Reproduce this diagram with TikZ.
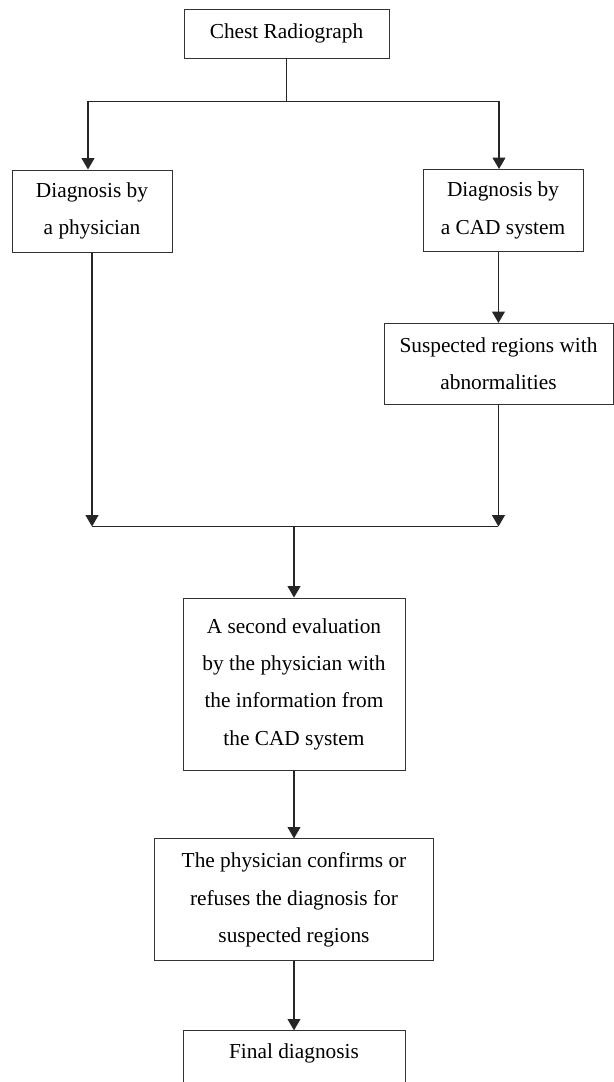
\documentclass[tikz,border=0pt]{standalone}
\usepackage{fontspec}
\setmainfont{Liberation Serif}
\usetikzlibrary{arrows.meta,positioning,calc}

\begin{document}
\begin{tikzpicture}[
		x=0.75pt, y=0.75pt,
		font=\fontsize{16}{28}\selectfont,
		every node/.style={align=center},
		flowbox/.style={rectangle, draw=black!80, line width=0.7pt,
				fill=white, inner sep=3pt},
		narrow/.style={flowbox, minimum width=120pt, minimum height=61.5pt},
		wide/.style={flowbox, minimum width=166.5pt},
		conn/.style={line width=1.25pt, black!85},
		arr/.style={conn, -{Triangle[length=8.5pt, width=9.5pt]}},
		]

		\path[use as bounding box, clip] (0,0) rectangle (614,-1082);

		\node[flowbox, minimum width=153.75pt, minimum height=36.75pt]
		(chest) at (286.5,-33.5) {Chest Radiograph};
		\node[narrow] (phys) at (92,-211) {Diagnosis by \\ a physician};
		\node[narrow] (cad)  at (503,-210.5) {Diagnosis by \\ a CAD system};
		\node[flowbox, minimum width=171.75pt, minimum height=60.75pt,
			below=53.25pt of cad, xshift=-3.4pt]
		(susp) {Suspected regions with \\ abnormalities};

		\node[wide, minimum height=129pt] (second) at (294,-684)
		{A second evaluation \\ by the physician with \\ the information from \\ the CAD system};
		\node[flowbox, minimum width=209.25pt, minimum height=91.5pt, below=51pt of second]
		(confirm) {The physician confirms or \\ refuses the diagnosis for \\ suspected regions};
		\node[wide, text height=18pt, text depth=30pt, below=51.75pt of confirm]
		(final) {Final diagnosis};

		\coordinate (split) at ($(chest.south)+(0,-43)$);
		\coordinate (merge) at ($(second.north)+(0,71)$);

		\draw[conn] (chest) -- (split);
		\draw[arr] (split) -| ([xshift=-3pt]phys.north);
		\draw[arr] (split) -| ([xshift=-3pt]cad.north);
		\draw[arr] (cad.south -| susp.north) -- (susp.north);

		\draw[arr] (phys.south) -- (phys.south |- merge);
		\draw[arr] (susp.south) -- (susp.south |- merge);
		\draw[conn] (phys.south |- merge) -- (susp.south |- merge);
		\draw[arr] (merge) -- (second);
		\draw[arr] (second) -- (confirm);
		\draw[arr] (confirm) -- (final);

	\end{tikzpicture}
\end{document}
